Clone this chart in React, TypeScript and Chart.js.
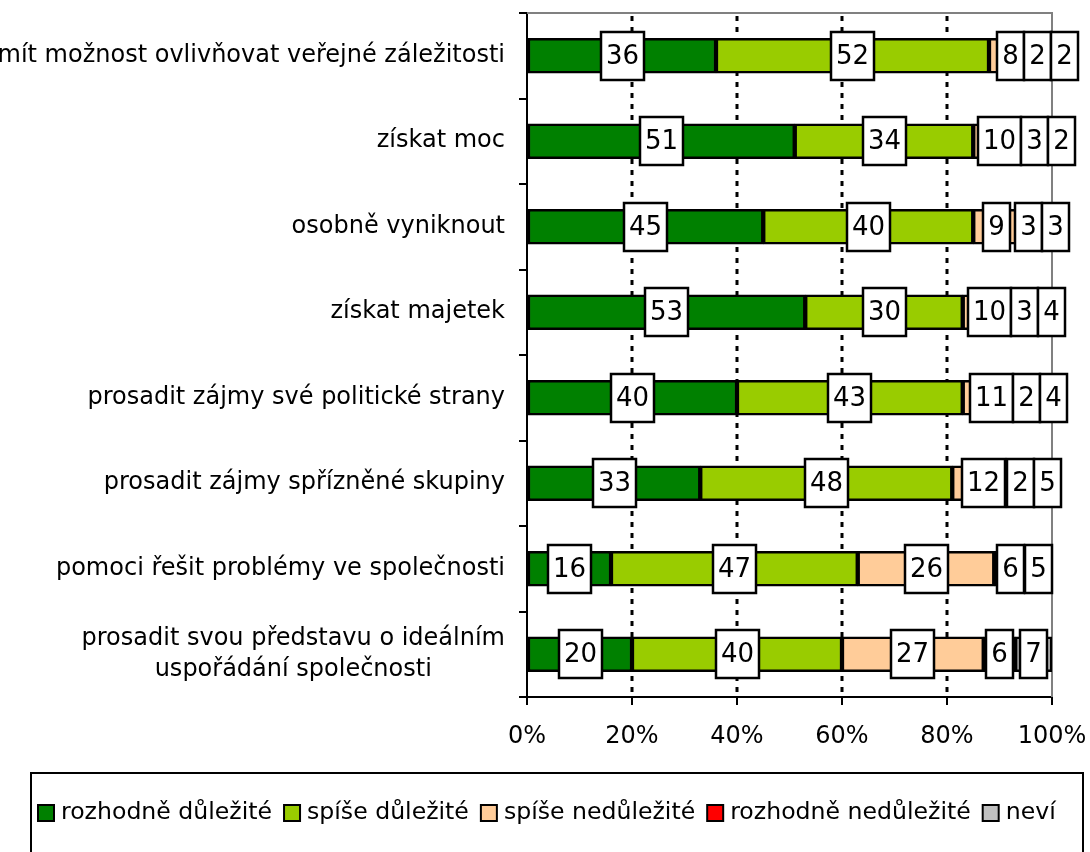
import React, { useEffect, useRef } from 'react';
import { Chart, registerables } from 'chart.js';

Chart.register(...registerables);

const categories: string[][] = [
  ['mít možnost ovlivňovat veřejné záležitosti'],
  ['získat moc'],
  ['osobně vyniknout'],
  ['získat majetek'],
  ['prosadit zájmy své politické strany'],
  ['prosadit zájmy spřízněné skupiny'],
  ['pomoci řešit problémy ve společnosti'],
  ['prosadit svou představu o ideálním', 'uspořádání společnosti'],
];

const seriesNames = ['rozhodně důležité', 'spíše důležité', 'spíše nedůležité', 'rozhodně nedůležité', 'neví'];
const seriesColors = ['#008000', '#99CC00', '#FFCC99', '#FF0000', '#C0C0C0'];

const rozhodneDulezite = [36, 51, 45, 53, 40, 33, 16, 20];
const spiseDulezite = [52, 34, 40, 30, 43, 48, 47, 40];
const spiseNedulezite = [8, 10, 9, 10, 11, 12, 26, 27];
const rozhodneNedulezite = [2, 3, 3, 3, 2, 2, 6, 6];
const nevi = [2, 2, 3, 4, 4, 5, 5, 7];

const xTickValues = [0, 20, 40, 60, 80, 100];
const gridValues = [20, 40, 60, 80];

const seriesValues = [rozhodneDulezite, spiseDulezite, spiseNedulezite, rozhodneNedulezite, nevi];

const FONT = '"DejaVu Sans", Verdana, sans-serif';

const framePlugin = {
  id: 'frame',
  beforeDatasetsDraw(chart: any) {
    const { ctx, chartArea } = chart;
    const xs = chart.scales.x;
    ctx.save();
    ctx.strokeStyle = '#000';
    ctx.lineWidth = 3;
    ctx.setLineDash([5, 6]);
    gridValues.forEach((v) => {
      const x = Math.round(xs.getPixelForValue(v));
      ctx.beginPath();
      ctx.moveTo(x, chartArea.top + 3);
      ctx.lineTo(x, chartArea.bottom);
      ctx.stroke();
    });
    ctx.setLineDash([]);
    ctx.strokeStyle = '#808080';
    ctx.lineWidth = 2;
    const xr = Math.round(xs.getPixelForValue(100));
    ctx.beginPath();
    ctx.moveTo(chartArea.left, chartArea.top);
    ctx.lineTo(xr, chartArea.top);
    ctx.lineTo(xr, chartArea.bottom);
    ctx.stroke();
    ctx.restore();
  },
};

const labelPlugin = {
  id: 'boxLabels',
  afterDatasetsDraw(chart: any) {
    const ctx = chart.ctx;
    ctx.save();
    ctx.font = `26px ${FONT}`;
    const n = chart.data.labels.length;
    for (let i = 0; i < n; i++) {
      let prevRight = -Infinity;
      chart.data.datasets.forEach((ds: any, d: number) => {
        const v = ds.data[i];
        if (!v) return;
        const el = chart.getDatasetMeta(d).data[i];
        const cx = (el.x + el.base) / 2;
        const text = String(v);
        const w = Math.round(ctx.measureText(text).width + 10);
        let left = Math.round(cx - w / 2);
        if (left < prevRight) left = prevRight;
        const h = 48;
        const top = Math.round(el.y - h / 2);
        ctx.fillStyle = '#fff';
        ctx.fillRect(left, top, w, h);
        ctx.lineWidth = 2.5;
        ctx.strokeStyle = '#000';
        ctx.strokeRect(left, top, w, h);
        ctx.fillStyle = '#000';
        ctx.textAlign = 'center';
        ctx.textBaseline = 'middle';
        ctx.fillText(text, left + w / 2, el.y + 1);
        prevRight = left + w;
      });
    }
    ctx.restore();
  },
};

const categoryLabelPlugin = {
  id: 'catLabels',
  afterDraw(chart: any) {
    const ctx = chart.ctx;
    const ys = chart.scales.y;
    ctx.save();
    ctx.font = `24px ${FONT}`;
    ctx.fillStyle = '#000';
    ctx.textBaseline = 'middle';
    ctx.textAlign = 'center';
    const rightEdge = 505;
    const lineH = 31;
    categories.forEach((lines, i) => {
      const y = ys.getPixelForValue(i);
      const maxW = Math.max(...lines.map((l) => ctx.measureText(l).width));
      const cx = rightEdge - maxW / 2;
      const y0 = y - ((lines.length - 1) * lineH) / 2;
      lines.forEach((l, k) => ctx.fillText(l, cx, y0 + k * lineH));
    });
    ctx.restore();
  },
};

const legendPlugin = {
  id: 'customLegend',
  afterDraw(chart: any) {
    const ctx = chart.ctx;
    ctx.save();
    ctx.strokeStyle = '#000';
    ctx.lineWidth = 2;
    ctx.strokeRect(31, 773, 1052, 200);
    ctx.font = `23.6px ${FONT}`;
    ctx.textBaseline = 'middle';
    ctx.textAlign = 'left';
    let x = 38;
    const yc = 813;
    seriesNames.forEach((name, i) => {
      ctx.fillStyle = seriesColors[i];
      ctx.fillRect(x, yc - 8, 16, 16);
      ctx.strokeStyle = '#000';
      ctx.lineWidth = 2;
      ctx.strokeRect(x, yc - 8, 16, 16);
      ctx.fillStyle = '#000';
      ctx.fillText(name, x + 23, yc);
      x += 23 + ctx.measureText(name).width + 12;
    });
    ctx.restore();
  },
};

export default function App() {
  const canvasRef = useRef<HTMLCanvasElement | null>(null);

  useEffect(() => {
    if (!canvasRef.current) return;
    const chart = new Chart(canvasRef.current, {
      type: 'bar',
      data: {
        labels: categories.map((c) => c.join(' ')),
        datasets: seriesNames.map((name, i) => ({
          label: name,
          data: seriesValues[i],
          backgroundColor: seriesColors[i],
          borderColor: '#000',
          borderWidth: 2.5,
          borderSkipped: false,
          barThickness: 35,
        })),
      },
      options: {
        indexAxis: 'y',
        animation: false,
        responsive: true,
        maintainAspectRatio: false,
        devicePixelRatio: 1,
        layout: { padding: { top: 13, right: 38, bottom: 0, left: 0 } },
        plugins: {
          legend: { display: false },
          tooltip: { enabled: false },
        },
        scales: {
          x: {
            stacked: true,
            min: 0,
            max: 100,
            afterBuildTicks: (scale: any) => {
              scale.ticks = xTickValues.map((v) => ({ value: v }));
            },
            afterFit: (scale: any) => {
              scale.height = 155;
              scale.paddingRight = 0;
              scale.paddingLeft = 0;
            },
            ticks: {
              callback: (v: any) => `${v}%`,
              font: { family: FONT, size: 24 },
              color: '#000',
              padding: 17,
              maxRotation: 0,
            },
            grid: {
              drawOnChartArea: false,
              drawTicks: true,
              tickLength: 8,
              color: '#000',
              lineWidth: 2,
            },
            border: { display: true, color: '#000', width: 2 },
          },
          y: {
            stacked: true,
            afterFit: (scale: any) => {
              scale.width = 527;
            },
            ticks: { display: false },
            grid: {
              offset: true,
              drawOnChartArea: false,
              drawTicks: true,
              tickLength: 8,
              color: '#000',
              lineWidth: 2,
            },
            border: { display: true, color: '#000', width: 2 },
          },
        },
      },
      plugins: [framePlugin, labelPlugin, categoryLabelPlugin, legendPlugin],
    } as any);
    return () => chart.destroy();
  }, []);

  return (
    <div style={{ position: 'absolute', left: 0, top: 0, width: 1090, height: 852, background: '#fff' }}>
      <canvas ref={canvasRef} />
    </div>
  );
}
